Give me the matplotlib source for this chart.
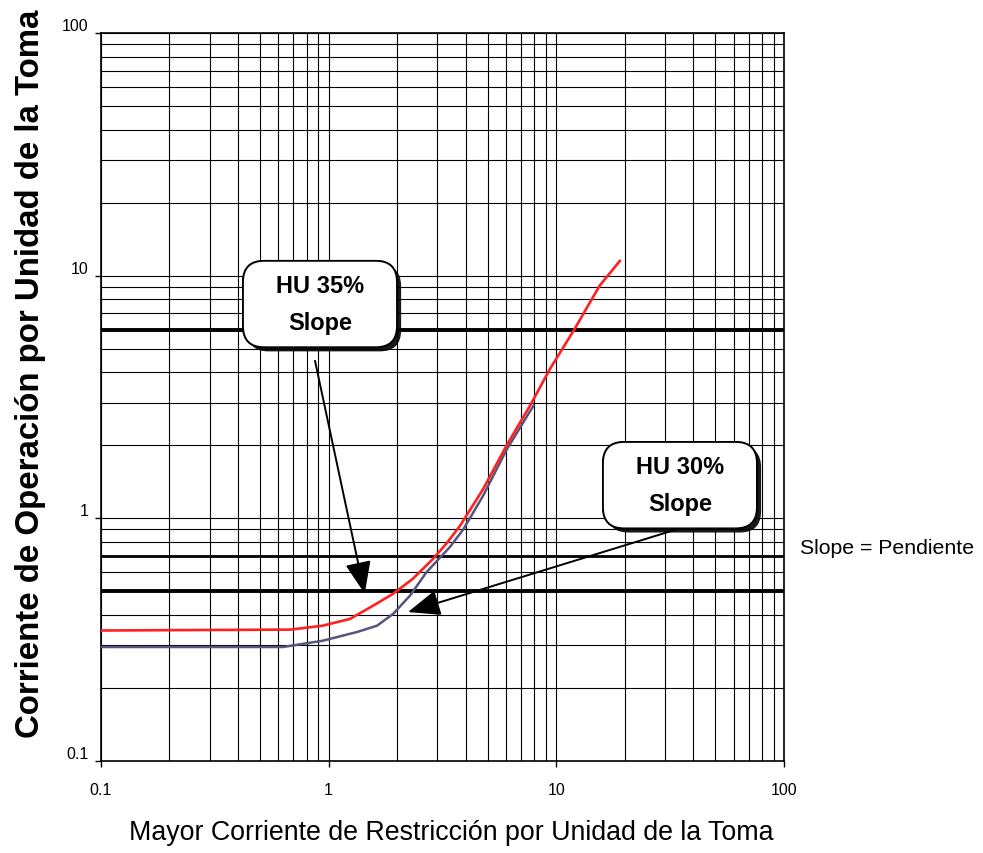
import matplotlib
matplotlib.use("Agg")
import matplotlib.pyplot as plt
import matplotlib.patheffects as pe
from matplotlib.ticker import NullFormatter

plt.rcParams['font.family'] = ['Liberation Sans', 'DejaVu Sans']

# curves (x = restraint current, y = operate current)
red_x = [0.1, 0.68, 0.94, 1.24, 1.57, 1.92, 2.34, 2.87, 3.3, 3.78, 4.77, 6.05, 7.66, 9.38, 11.9, 15.5, 19.0]
red_y = [0.345, 0.348, 0.361, 0.385, 0.437, 0.489, 0.563, 0.68, 0.79, 0.933, 1.32, 2.0, 2.91, 4.13, 5.93, 9.1, 11.5]

blue_x = [0.1, 0.63, 0.94, 1.33, 1.63, 1.92, 2.28, 2.69, 3.0, 3.4, 3.9, 4.77, 6.05, 7.93]
blue_y = [0.295, 0.295, 0.313, 0.34, 0.361, 0.404, 0.481, 0.60, 0.67, 0.76, 0.90, 1.24, 1.92, 2.91]

tick_vals = [0.1, 1, 10, 100]
tick_labels = ['0.1', '1', '10', '100']

# heavier reference lines
thick_levels = [6, 0.7, 0.5]
thick_widths = [2.8, 2.0, 2.8]

box_labels = ['   HU 35%   \nSlope', '   HU 30%   \nSlope']
box_x = [0.916, 34.9]
box_y = [7.64, 1.37]
arrow_tail_x = [0.871, 34.2]
arrow_tail_y = [4.46, 0.904]
arrow_head_x = [1.44, 2.23]
arrow_head_y = [0.489, 0.411]

fig = plt.figure(figsize=(9.83, 8.54), dpi=100)
ax = fig.add_axes([0.1027, 0.1077, 0.6949, 0.8525])
ax.set_xscale('log')
ax.set_yscale('log')
ax.set_xlim(0.1, 100)
ax.set_ylim(0.1, 100)

ax.grid(True, which='both', color='black', linewidth=0.8, zorder=1)
ax.set_axisbelow(True)
for lvl, w in zip(thick_levels, thick_widths):
    ax.axhline(lvl, color='black', linewidth=w, zorder=1.5)

ax.set_xticks(tick_vals, tick_labels)
ax.set_yticks(tick_vals, tick_labels)
ax.xaxis.set_minor_formatter(NullFormatter())
ax.yaxis.set_minor_formatter(NullFormatter())
ax.tick_params(which='minor', length=0)
ax.tick_params(which='major', length=4, width=1.0, labelsize=11.5, color='black')
ax.tick_params(axis='x', pad=11)
ax.tick_params(axis='y', pad=5)
plt.setp(ax.get_yticklabels(), va='bottom')
for s in ax.spines.values():
    s.set_linewidth(1.2)

ax.plot(blue_x, blue_y, color='#55557d', linewidth=1.8, zorder=3)
ax.plot(red_x, red_y, color='#ff2020', linewidth=1.9, zorder=4)

for lab, bx, by in zip(box_labels, box_x, box_y):
    t = ax.text(bx, by, lab, ha='center', va='center', multialignment='center',
                fontsize=17, fontweight='bold', linespacing=1.8, zorder=6,
                bbox=dict(boxstyle='round,pad=0.55,rounding_size=0.9',
                          fc='white', ec='black', lw=1.3))
    t.get_bbox_patch().set_path_effects(
        [pe.withSimplePatchShadow(offset=(3, -3), shadow_rgbFace='black', alpha=0.9),
         pe.Normal()])

for tx, ty, hx, hy in zip(arrow_tail_x, arrow_tail_y, arrow_head_x, arrow_head_y):
    ax.annotate('', xy=(hx, hy), xytext=(tx, ty), zorder=5,
                arrowprops=dict(arrowstyle='-|>,head_length=1.0,head_width=0.4',
                                mutation_scale=20, color='black', lw=1.4,
                                shrinkA=0, shrinkB=0))

fig.text(0.031, 0.562, 'Corriente de Operación por Unidad de la Toma',
         rotation=90, ha='center', va='center', fontsize=23.8, fontweight='bold')
fig.text(0.459, 0.025, 'Mayor Corriente de Restricción por Unidad de la Toma',
         ha='center', va='center', fontsize=19.3)
fig.text(0.814, 0.358, 'Slope = Pendiente', ha='left', va='center', fontsize=15.3)

fig.savefig('out.png', dpi=100)
